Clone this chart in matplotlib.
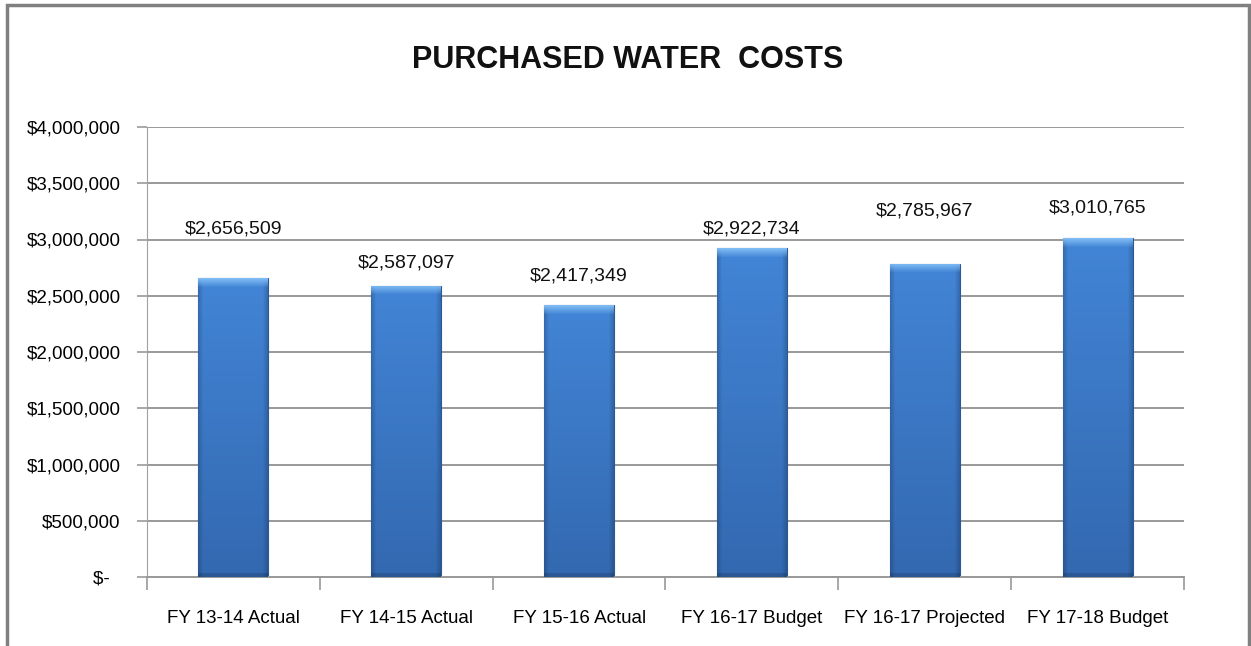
import numpy as np
import matplotlib
matplotlib.use("Agg")
import matplotlib.pyplot as plt
from matplotlib.patches import Rectangle
from matplotlib.ticker import FuncFormatter

# data
categories = ["FY 13-14 Actual", "FY 14-15 Actual", "FY 15-16 Actual",
              "FY 16-17 Budget", "FY 16-17 Projected", "FY 17-18 Budget"]
costs = [2656509, 2587097, 2417349, 2922734, 2785967, 3010765]

# label gap above bar top in pixels (labels were hand-placed in the original)
label_gap = [49, 23, 29, 19, 53, 30]

plt.rcParams["font.family"] = ["Liberation Sans", "DejaVu Sans"]

fig = plt.figure(figsize=(12.51, 6.46), dpi=100)
ax = fig.add_axes([147 / 1251, 1 - 577 / 646, (1184 - 147) / 1251, (577 - 127) / 646])

x = np.arange(len(categories))
bars = ax.bar(x, costs, width=0.405, color="#3D7DCC", zorder=2)


def bar_shade(h=300, w=70):
    # vertical gradient, darker edges and a light bevel on top
    yy = np.linspace(0, 1, h)[:, None]
    xx = np.linspace(0, 1, w)[None, :]
    top = np.array([0.26, 0.52, 0.84])
    bot = np.array([0.20, 0.41, 0.69])
    img = top + (bot - top) * yy[..., None]
    img = np.broadcast_to(img, (h, w, 3)).copy()
    edge = np.minimum(xx, 1 - xx)
    dark = np.clip(1 - edge / 0.07, 0, 1)[..., None] * 0.18
    img = img * (1 - dark)
    nb = 9
    light = np.array([0.50, 0.74, 0.96])
    for i in range(nb):
        t = i / nb
        img[i] = light * (1 - t) + img[i] * t
    img[-4:] = img[-4:] * 0.85
    return np.clip(img, 0, 1)


for b in bars:
    bx, by = b.get_x(), b.get_y()
    bw, bh = b.get_width(), b.get_height()
    n = int(round(bh / 4000000 * 450))
    im = ax.imshow(bar_shade(h=n), extent=[bx, bx + bw, by, by + bh],
                   aspect="auto", zorder=3, origin="upper")
    im.set_clip_path(b)
    b.set_edgecolor("#2A5A96")
    b.set_linewidth(0.8)

for xi, v, g in zip(x, costs, label_gap):
    ax.annotate(f"${v:,.0f}", (xi, v), xytext=(0, g * 72 / 100),
                textcoords="offset points", ha="center", va="center",
                fontsize=14, color="#111111", zorder=4)

ax.set_xlim(-0.5, len(categories) - 0.5)
ax.set_ylim(0, 4000000)
ax.set_yticks(np.arange(0, 4000001, 500000))
ax.yaxis.set_major_formatter(FuncFormatter(lambda v, p: "$-  " if v == 0 else f"${v:,.0f}"))
ax.set_xticks(x)
ax.set_xticklabels(categories)
ax.set_xticks(np.arange(-0.5, len(categories), 1), minor=True)
ax.tick_params(axis="x", which="major", length=0, pad=24, labelsize=13.5)
ax.tick_params(axis="x", which="minor", length=9, color="#999999", width=1.2)
ax.tick_params(axis="y", length=7, color="#999999", width=1.2, pad=12, labelsize=13.5)

ax.grid(axis="y", color="#999999", linewidth=1.4, zorder=0)
for s in ["top", "right"]:
    ax.spines[s].set_visible(False)
ax.spines["left"].set_color("#a0a0a0")
ax.spines["bottom"].set_color("#999999")
ax.spines["bottom"].set_linewidth(1.4)

fig.text(628 / 1251, 1 - 60 / 646, "PURCHASED WATER  COSTS", ha="center", va="center",
         fontsize=22, fontweight="bold", color="#111111")

# outer chart frame (bottom edge runs off the image)
fig.patches.append(Rectangle((7 / 1251, -0.05), (1249 - 7) / 1251, 1.05 - 5 / 646,
                             transform=fig.transFigure, fill=False,
                             edgecolor="#808080", linewidth=2.5))

fig.savefig("out.png", dpi=100)
